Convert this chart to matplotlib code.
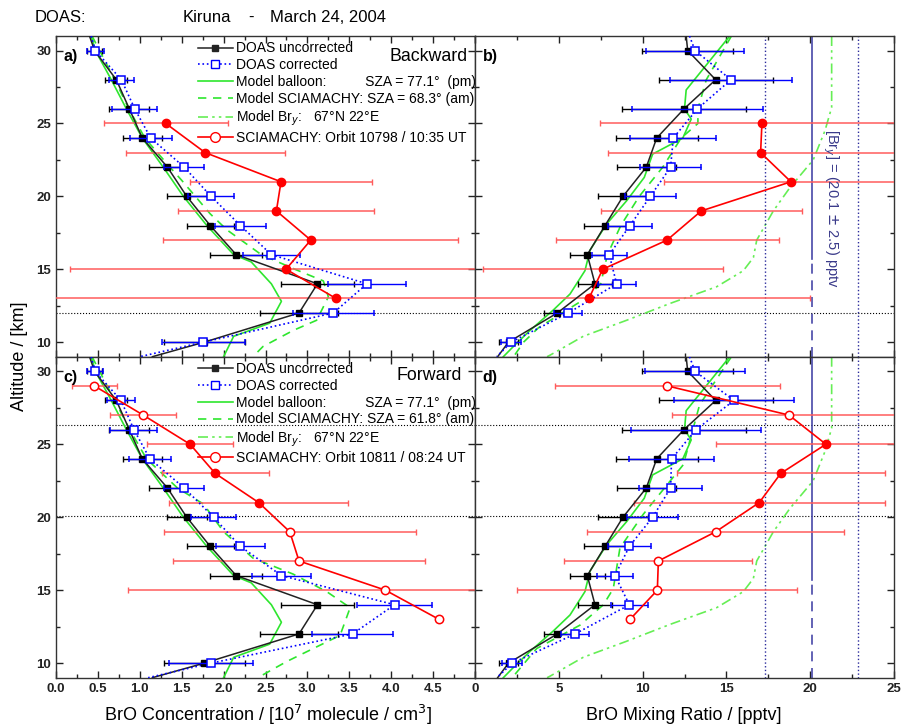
import numpy as np
import matplotlib.pyplot as plt
from matplotlib.lines import Line2D

plt.rcParams['font.family'] = ['Liberation Sans', 'DejaVu Sans']

# ---------------- data ----------------
# DOAS profiles (markers at alt, line also drawn to the panel edges 31 / 9 km)
alt = [30, 28, 26, 24, 22, 20, 18, 16, 14, 12, 10]
alt_line = [31] + alt + [9]

conc_unc = [0.40, 0.46, 0.72, 0.875, 1.03, 1.33, 1.56, 1.84, 2.15, 3.12, 2.90, 1.77, 1.15]
conc_unc_err = [0.09, 0.13, 0.24, 0.235, 0.22, 0.24, 0.28, 0.31, 0.44, 0.46, 0.48]
conc_cor_bwd = [0.42, 0.47, 0.78, 0.94, 1.13, 1.53, 1.85, 2.20, 2.57, 3.71, 3.31, 1.76, 1.0]
conc_cor_bwd_err = [0.10, 0.15, 0.27, 0.25, 0.24, 0.27, 0.30, 0.34, 0.47, 0.48, 0.50]
conc_cor_fwd = [0.42, 0.465, 0.776, 0.93, 1.12, 1.53, 1.88, 2.20, 2.69, 4.04, 3.54, 1.85, 1.1]
conc_cor_fwd_err = [0.10, 0.17, 0.28, 0.25, 0.24, 0.27, 0.29, 0.35, 0.45, 0.48, 0.50]

mr_unc = [12.6, 12.69, 14.36, 12.47, 10.84, 10.22, 8.83, 7.76, 6.70, 7.16, 4.91, 2.0, 1.35]
mr_unc_err = [2.7, 3.4, 3.7, 2.44, 1.77, 1.47, 1.24, 1.06, 1.03, 0.79, 0.55]
mr_cor_bwd = [12.8, 13.13, 15.27, 13.27, 11.83, 11.67, 10.46, 9.25, 8.01, 8.45, 5.57, 2.15, 1.3]
mr_cor_bwd_err = [2.9, 3.63, 3.9, 2.56, 1.84, 1.51, 1.29, 1.04, 1.14, 0.83, 0.57]
mr_cor_fwd = [12.8, 13.13, 15.45, 13.19, 11.73, 11.67, 10.6, 9.21, 8.35, 9.21, 5.97, 2.23, 1.3]
mr_cor_fwd_err = [3.0, 3.6, 3.9, 2.55, 1.9, 1.53, 1.27, 1.1, 1.1, 0.83, 0.6]

# SCIAMACHY limb retrievals
sci_bwd_alt = [25, 23, 21, 19, 17, 15, 13]
sci_bwd_conc = [1.31, 1.78, 2.685, 2.63, 3.04, 2.745, 3.34]
sci_bwd_conc_err = [0.74, 0.95, 1.09, 1.17, 1.76, 2.58, 6.5]
sci_bwd_mr = [17.12, 17.04, 18.85, 13.5, 11.46, 7.62, 6.80]
sci_bwd_mr_err = [9.66, 9.1, 7.6, 6.0, 6.65, 7.17, 13.2]

sci_fwd_alt = [29, 27, 25, 23, 21, 19, 17, 15, 13]
sci_fwd_conc = [0.457, 1.04, 1.60, 1.90, 2.42, 2.79, 2.90, 3.93, 4.57]
sci_fwd_conc_err = [0.27, 0.39, 0.51, 0.64, 1.07, 1.5, 1.5, 3.07, np.nan]
sci_fwd_mr = [11.47, 18.73, 20.94, 18.24, 16.96, 14.36, 10.94, 10.88, 9.25]
sci_fwd_mr_err = [6.7, 7.0, 6.56, 6.2, 7.5, 7.66, 5.6, 8.35, np.nan]
sci_fwd_filled = [False, False, True, True, True, False, False, False, False]

# model curves
bal_alt = [31, 30, 28, 26, 24, 22, 20, 18, 16, 15.5, 14, 12.8, 11.3, 10.4, 9]
bal_conc = [0.42, 0.47, 0.66, 0.84, 1.03, 1.28, 1.52, 1.80, 2.12, 2.33, 2.57, 2.69, 2.55, 2.12, 2.0]
bal_mr_alt = [31, 27.3, 26, 25.3, 24, 22.9, 21.3, 19.7, 18.1, 16.3, 14.9, 13.3, 12.2, 10.8, 9.7, 9]
bal_mr = [15.2, 12.6, 12.5, 12.9, 12.4, 10.6, 10.1, 9.05, 7.85, 6.86, 6.56, 5.67, 4.67, 3.28, 2.29, 1.69]

scia_a_alt = [31, 28, 26, 24, 22, 21.1, 18.8, 17.7, 16, 15, 14.2, 13.1, 11.5, 10.8, 9.7, 9]
scia_a_conc = [0.43, 0.70, 0.87, 1.06, 1.36, 1.50, 1.84, 2.04, 2.45, 2.85, 3.19, 3.25, 3.11, 2.83, 2.47, 2.35]
scia_c_alt = [31, 28, 26, 24, 22, 20.9, 19, 17.2, 16.1, 14.9, 13.8, 11.9, 10.1, 9.2, 9]
scia_c_conc = [0.43, 0.70, 0.88, 1.08, 1.45, 1.76, 2.0, 2.35, 2.83, 3.23, 3.51, 3.39, 2.75, 2.47, 2.4]
scia_b_alt = [31, 28, 26, 25, 24, 22, 20, 18, 16, 14, 13, 12, 11, 10, 9]
scia_b_mr = [15.3, 13.8, 13.3, 13.3, 12.3, 11.2, 9.8, 8.7, 7.9, 7.5, 6.6, 5.2, 3.8, 2.9, 2.3]
scia_d_alt = [31, 27.7, 23.6, 20.2, 17.9, 15.1, 14.0, 12.6, 11.0, 9.1, 9]
scia_d_mr = [15.3, 13.4, 12.43, 10.04, 8.65, 8.25, 7.66, 6.26, 3.68, 2.29, 2.2]

bry_alt = [31, 26.1, 24.5, 22.5, 20.6, 19.0, 17.0, 15.8, 14.9, 13.8, 12.65, 11.5, 10.4, 9.1, 9]
bry_mr = [21.28, 21.28, 20.88, 20.18, 18.79, 17.80, 16.81, 16.61, 16.01, 14.42, 11.63, 9.05, 6.46, 4.47, 4.3]

bry_mean, bry_lo, bry_hi = 20.1, 17.3, 22.85
bry_solid_from = 15.7
hline_top = [12.0]
hline_bot = [26.3, 20.05]

# ---------------- styles ----------------
GREEN = '#2ee62e'
GREEN2 = '#66ee55'
BLUE = '#0000ff'
RED = '#ff0000'
RED_ERR = '#ff5c5c'
NAVY = '#2b2b9c'
DASH = (0, (5, 4))
DASHDOT = (0, (6, 2.5, 1.5, 2.5, 1.5, 2.5))


def doas(ax, unc, unc_err, cor, cor_err):
    ax.plot(unc, alt_line, color='#222222', lw=1.1, zorder=4)
    ax.plot(cor, alt_line, color=BLUE, lw=1.2, ls=':', zorder=4)
    ax.errorbar(unc[1:-1], alt, xerr=unc_err, fmt='s', color='black', ms=5,
                elinewidth=1, capsize=2.5, capthick=1, zorder=5)
    ax.errorbar(cor[1:-1], alt, xerr=cor_err, fmt='s', color=BLUE, mfc='white',
                mec=BLUE, ms=5.5, mew=1.1, elinewidth=1, capsize=2.5, capthick=1, zorder=6)


def sciamachy(ax, a, x, err, filled):
    a = np.array(a); x = np.array(x); filled = np.array(filled)
    ax.errorbar(x, a, xerr=err, fmt='none', ecolor=RED_ERR, elinewidth=1.1,
                capsize=2.5, capthick=1, zorder=3)
    ax.plot(x, a, color=RED, lw=1.2, zorder=7)
    ax.plot(x[filled], a[filled], 'o', color=RED, ms=6, zorder=8)
    ax.plot(x[~filled], a[~filled], 'o', color=RED, mfc='white', ms=6, mew=1.1, zorder=8)


def style(ax, left):
    ax.set_ylim(9, 31)
    ax.set_yticks([10, 15, 20, 25, 30])
    ax.set_yticks(np.arange(12.5, 31, 5), minor=True)
    if left:
        ax.set_xlim(0, 5)
        ax.set_xticks(np.arange(0, 5.01, 0.5))
        ax.set_xticklabels(['%.1f' % v for v in np.arange(0, 4.51, 0.5)] + [''])
        ax.set_xticks(np.arange(0.25, 5, 0.5), minor=True)
    else:
        ax.set_xlim(0, 25)
        ax.set_xticks(np.arange(0, 26, 5))
        ax.set_xticks(np.arange(2.5, 25, 5), minor=True)
        ax.set_yticklabels([])
    ax.tick_params(which='both', direction='in', top=True, right=True, width=1,
                   labelsize=9.5, colors='#222222')
    ax.tick_params(which='major', length=5)
    ax.tick_params(which='minor', length=3)
    for lab in ax.get_xticklabels() + ax.get_yticklabels():
        lab.set_fontweight('bold')
    for s in ax.spines.values():
        s.set_color('#333333')
        s.set_linewidth(1)


def bry_lines(ax):
    ax.axvline(bry_lo, color=NAVY, ls=':', lw=1)
    ax.axvline(bry_hi, color=NAVY, ls=':', lw=1)
    ax.plot([bry_mean, bry_mean], [bry_solid_from, 31], color='#4848a8', lw=1.2)
    ax.plot([bry_mean, bry_mean], [9, bry_solid_from], color='#4848a8', lw=1.2, ls=(0, (6, 4)))


fig = plt.figure(figsize=(9.02, 7.28), dpi=100)
W, H = 902.0, 728.0
ax_a = fig.add_axes([56 / W, 1 - 356.7 / H, 419 / W, 320.7 / H])
ax_b = fig.add_axes([475 / W, 1 - 356.7 / H, 419 / W, 320.7 / H])
ax_c = fig.add_axes([56 / W, 1 - 677.7 / H, 419 / W, 321 / H])
ax_d = fig.add_axes([475 / W, 1 - 677.7 / H, 419 / W, 321 / H])

# panel a
ax_a.plot(bal_conc, bal_alt, color=GREEN, lw=1.2, zorder=2)
ax_a.plot(scia_a_conc, scia_a_alt, color=GREEN, lw=1.2, ls=DASH, zorder=2)
doas(ax_a, conc_unc, conc_unc_err, conc_cor_bwd, conc_cor_bwd_err)
sciamachy(ax_a, sci_bwd_alt, sci_bwd_conc, sci_bwd_conc_err, [True] * len(sci_bwd_alt))

# panel b
ax_b.plot(bal_mr, bal_mr_alt, color=GREEN, lw=1.2, zorder=2)
ax_b.plot(scia_b_mr, scia_b_alt, color=GREEN, lw=1.2, ls=DASH, zorder=2)
ax_b.plot(bry_mr, bry_alt, color=GREEN2, lw=1.2, ls=DASHDOT, zorder=2)
bry_lines(ax_b)
doas(ax_b, mr_unc, mr_unc_err, mr_cor_bwd, mr_cor_bwd_err)
sciamachy(ax_b, sci_bwd_alt, sci_bwd_mr, sci_bwd_mr_err, [True] * len(sci_bwd_alt))
ax_b.text(21.2, 19.2, r'[Br$_y$] = (20.1 $\pm$ 2.5) pptv', rotation=-90, color='#3a3a8a',
          ha='center', va='center', fontsize=10.5)

# panel c
ax_c.plot(bal_conc, bal_alt, color=GREEN, lw=1.2, zorder=2)
ax_c.plot(scia_c_conc, scia_c_alt, color=GREEN, lw=1.2, ls=DASH, zorder=2)
doas(ax_c, conc_unc, conc_unc_err, conc_cor_fwd, conc_cor_fwd_err)
sciamachy(ax_c, sci_fwd_alt, sci_fwd_conc, sci_fwd_conc_err, sci_fwd_filled)

# panel d
ax_d.plot(bal_mr, bal_mr_alt, color=GREEN, lw=1.2, zorder=2)
ax_d.plot(scia_d_mr, scia_d_alt, color=GREEN, lw=1.2, ls=DASH, zorder=2)
ax_d.plot(bry_mr, bry_alt, color=GREEN2, lw=1.2, ls=DASHDOT, zorder=2)
bry_lines(ax_d)
doas(ax_d, mr_unc, mr_unc_err, mr_cor_fwd, mr_cor_fwd_err)
sciamachy(ax_d, sci_fwd_alt, sci_fwd_mr, sci_fwd_mr_err, sci_fwd_filled)

for ax in (ax_a, ax_b):
    for h in hline_top:
        ax.axhline(h, color='black', ls=':', lw=0.8, zorder=1)
for ax in (ax_c, ax_d):
    for h in hline_bot:
        ax.axhline(h, color='black', ls=':', lw=0.8, zorder=1)

style(ax_a, True)
style(ax_b, False)
style(ax_c, True)
style(ax_d, False)
ax_a.set_xticklabels([])
ax_b.set_xticklabels([])


def legend(ax, sza, orbit):
    handles = [
        Line2D([], [], color='#222222', marker='s', ms=5, lw=1.1),
        Line2D([], [], color=BLUE, ls=':', lw=1.2, marker='s', mfc='white', ms=5.5),
        Line2D([], [], color=GREEN, lw=1.2),
        Line2D([], [], color=GREEN, lw=1.2, ls=DASH),
        Line2D([], [], color=GREEN2, lw=1.2, ls=DASHDOT),
        Line2D([], [], color=RED, lw=1.2, marker='o', mfc='white', ms=7),
    ]
    labels = ['DOAS uncorrected', 'DOAS corrected',
              'Model balloon:          SZA = 77.1\u00b0  (pm)',
              'Model SCIAMACHY: SZA = %s\u00b0 (am)' % sza,
              'Model Br$_y$:   67\u00b0N 22\u00b0E',
              'SCIAMACHY: Orbit %s UT' % orbit]
    ax.legend(handles, labels, loc='upper left', bbox_to_anchor=(0.339, 0.983),
              frameon=False, fontsize=10, handlelength=2.5, handletextpad=0.25,
              labelspacing=0.2, borderaxespad=0, borderpad=0)


legend(ax_a, '68.3', '10798 / 10:35')
legend(ax_c, '61.8', '10811 / 08:24')

ax_a.text(0.982, 0.937, 'Backward', transform=ax_a.transAxes, ha='right', va='center', fontsize=12.8)
ax_c.text(0.968, 0.94, 'Forward', transform=ax_c.transAxes, ha='right', va='center', fontsize=12.8)
for ax, lab in ((ax_a, 'a)'), (ax_b, 'b)'), (ax_c, 'c)'), (ax_d, 'd)')):
    ax.text(0.018, 0.935, lab, transform=ax.transAxes, ha='left', va='center',
            fontsize=11.5, fontweight='bold')

fig.text(35 / W, 1 - 17 / H, 'DOAS:', fontsize=12, va='center')
fig.text(183 / W, 1 - 17 / H, 'Kiruna', fontsize=12, va='center')
fig.text(248 / W, 1 - 17 / H, '-', fontsize=12, va='center')
fig.text(270 / W, 1 - 17 / H, 'March 24, 2004', fontsize=12, va='center')

fig.text(20 / W, 1 - 356 / H, 'Altitude / [km]', rotation=90, ha='center', va='center',
         fontsize=13)
fig.text(268 / W, 1 - 715 / H, 'BrO Concentration / [10$^7$ molecule / cm$^3$]',
         ha='center', va='center', fontsize=13)
fig.text(684 / W, 1 - 715 / H, 'BrO Mixing Ratio / [pptv]', ha='center', va='center',
         fontsize=13)

fig.savefig('out.png', dpi=100)
